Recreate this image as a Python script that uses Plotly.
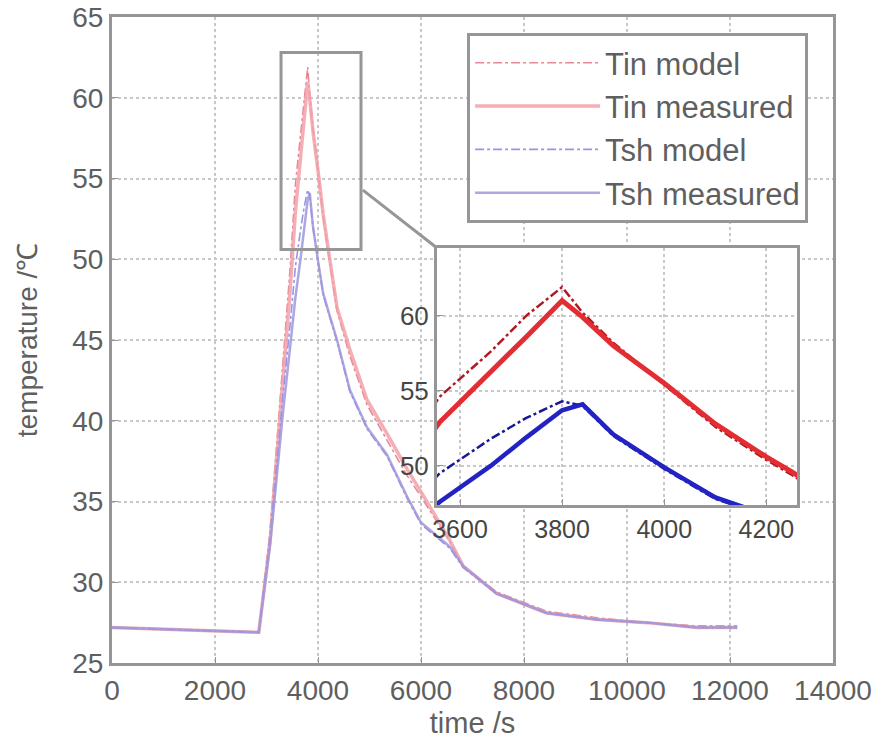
import plotly.graph_objects as go

# ---- data ----
time_s = [0, 1000, 2000, 2850, 3070, 3200, 3320, 3460, 3560, 3660, 3730, 3800,
          3840, 3900, 4000, 4100, 4200, 4250, 4370, 4620, 4950, 5340, 5730, 6000,
          6300, 6560, 6820, 7470, 8440, 9420, 10390, 11360, 12140]

tin_model = [27.2, 27.1, 27.0, 26.9, 33.2, 38.6, 43.5, 49.5, 54.6, 57.6, 60.0, 61.9,
             60.2, 58.2, 55.4, 52.6, 50.4, 49.4, 46.8, 44.0, 41.0, 38.8, 36.6, 35.3,
             33.8, 32.5, 31.0, 29.4, 28.2, 27.8, 27.5, 27.3, 27.3]
tin_measured = [27.2, 27.1, 27.0, 26.9, 32.6, 37.8, 42.3, 48.1, 52.9, 56.2, 58.6, 61.0,
                59.9, 58.0, 55.5, 52.8, 50.6, 49.6, 47.0, 44.4, 41.3, 39.2, 37.0, 35.6,
                34.0, 32.6, 31.0, 29.3, 28.1, 27.7, 27.5, 27.2, 27.2]
tsh_model = [27.2, 27.1, 27.0, 26.9, 32.8, 37.6, 41.6, 46.0, 49.5, 51.8, 53.2, 54.3,
             54.0, 52.0, 49.8, 47.8, 46.7, 46.2, 44.9, 41.8, 39.5, 37.8, 35.2, 33.6,
             32.8, 32.1, 30.9, 29.3, 28.1, 27.7, 27.5, 27.2, 27.2]
tsh_measured = [27.2, 27.1, 27.0, 26.9, 32.3, 36.8, 40.5, 44.6, 47.6, 50.0, 51.9, 53.7,
                54.1, 52.1, 49.9, 47.9, 46.8, 46.3, 45.0, 41.9, 39.6, 37.9, 35.3, 33.7,
                32.9, 32.2, 31.0, 29.3, 28.1, 27.7, 27.5, 27.2, 27.2]

series_names = ["Tin model", "Tin measured", "Tsh model", "Tsh measured"]
x_ticks = [0, 2000, 4000, 6000, 8000, 10000, 12000, 14000]
x_tick_labels = ["0", "2000", "4000", "6000", "8000", "10000", "12000", "14000"]
y_ticks = [25, 30, 35, 40, 45, 50, 55, 60, 65]
inset_x_ticks = [3600, 3800, 4000, 4200]
inset_x_labels = ["3600", "3800", "4000", "4200"]
inset_y_ticks = [50, 55, 60]

FONT = "Liberation Sans, Arial, sans-serif"
AX = "rgb(150,150,150)"
GRID = "rgb(200,200,200)"
TXT = "rgb(95,95,95)"

fig = go.Figure()

main_styles = [
    dict(color="rgb(232,135,150)", width=1.6, dash="dashdot"),
    dict(color="rgba(242,160,168,0.85)", width=3.5, dash="solid"),
    dict(color="rgb(150,150,232)", width=1.6, dash="dashdot"),
    dict(color="rgba(160,150,218,0.85)", width=2.5, dash="solid"),
]
inset_styles = [
    dict(color="rgb(175,25,35)", width=2.5, dash="dashdot"),
    dict(color="rgb(228,45,50)", width=5, dash="solid"),
    dict(color="rgb(25,25,150)", width=2.5, dash="dashdot"),
    dict(color="rgb(35,35,195)", width=4.5, dash="solid"),
]
all_series = [tin_model, tin_measured, tsh_model, tsh_measured]

for i, (name, ys) in enumerate(zip(series_names, all_series)):
    fig.add_trace(go.Scatter(x=time_s, y=ys, mode="lines", name=name,
                             line=main_styles[i], legendgroup=name,
                             xaxis="x", yaxis="y"))
for i, (name, ys) in enumerate(zip(series_names, all_series)):
    fig.add_trace(go.Scatter(x=time_s, y=ys, mode="lines", name=name,
                             line=inset_styles[i], showlegend=False,
                             xaxis="x2", yaxis="y2"))

axis_common = dict(showline=True, linecolor=AX, linewidth=3, mirror=True,
                   ticks="inside", ticklen=6, tickcolor=AX, showgrid=True,
                   gridcolor=GRID, griddash="dot", gridwidth=1.5, zeroline=False,
                   automargin=False, ticklabeloverflow="allow")

fig.update_layout(
    width=893, height=741,
    margin=dict(l=112, r=60, t=17, b=78),
    paper_bgcolor="white", plot_bgcolor="white",
    font=dict(family=FONT, size=28, color=TXT),
    xaxis=dict(domain=[0, 1], range=[0, 14000], tickvals=x_ticks, ticktext=x_tick_labels,
               title=dict(text="time /s", font=dict(size=29), standoff=9),
               anchor="y", **axis_common),
    yaxis=dict(domain=[0, 1], range=[25, 65], tickvals=y_ticks,
               title=dict(text="temperature /℃", font=dict(size=28), standoff=27),
               anchor="x", **axis_common),
    xaxis2=dict(domain=[0.4508, 0.9501], range=[3555, 4260], tickvals=inset_x_ticks,
                ticktext=inset_x_labels, anchor="y2",
                tickfont=dict(size=25, color="rgb(70,70,70)"), **axis_common),
    yaxis2=dict(domain=[0.2446, 0.6424], range=[47.4, 64.5], tickvals=inset_y_ticks,
                anchor="x2", tickfont=dict(size=26, color="rgb(70,70,70)"), **axis_common),
    legend=dict(x=0.4925, y=0.975, xanchor="left", yanchor="top",
                bgcolor="white", bordercolor=AX, borderwidth=3,
                font=dict(size=31, color=TXT), itemwidth=125,
                traceorder="grouped", tracegroupgap=0),
    showlegend=True,
)

# zoom rectangle and connector
fig.add_shape(type="rect", xref="x", yref="y", x0=3282, x1=4835, y0=50.6, y1=62.8,
              line=dict(color=AX, width=3))
fig.add_shape(type="line", xref="paper", yref="paper", x0=0.348, y0=0.732,
              x1=0.4508, y1=0.6424, line=dict(color=AX, width=3))

fig.write_html("out.html", config={"displayModeBar": False},
               post_script="document.body.style.margin='0';document.body.style.overflow='hidden';")
